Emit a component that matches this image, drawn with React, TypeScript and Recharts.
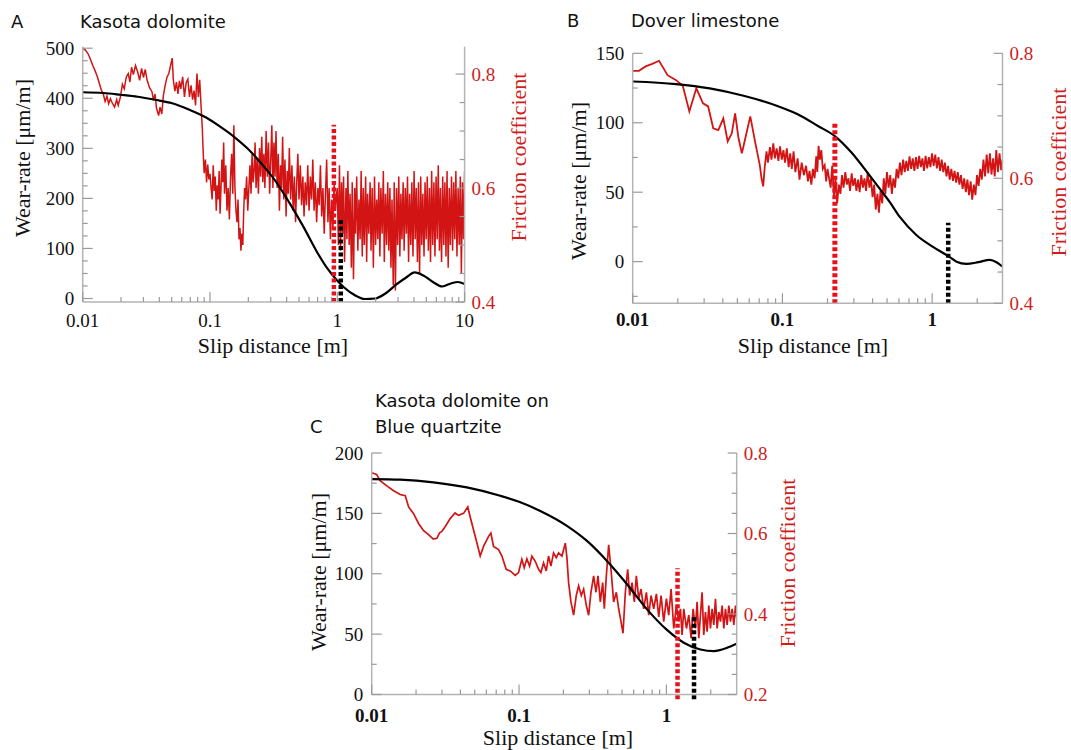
import React from "react";
import { LineChart, Line, XAxis, YAxis, ReferenceLine } from "recharts";

type Pt = [number, number];

const RED = "#d21414";
const RED_DOT = "#e8101a";
const RED_TEXT = "#cf1d1d";
const AXIS = "#b4b4b4";
const TICK = "#9a9a9a";
const SERIF = "'Liberation Serif', 'Times New Roman', serif";
const SANS = "'DejaVu Sans', sans-serif";

// ---------------- Panel A : Kasota dolomite ----------------
const wearA: Pt[] = [
  [0.01, 412], [0.01452, 410.5], [0.01983, 407], [0.02706, 403], [0.03696, 397], [0.05047, 390],
  [0.06888, 377], [0.09397, 361], [0.1205, 343], [0.1546, 323], [0.1983, 299], [0.2543, 269],
  [0.3264, 235], [0.4188, 192], [0.537, 145], [0.6888, 94], [0.8299, 61], [0.9886, 37],
  [1.132, 22], [1.365, 7], [1.644, -1], [1.983, 0], [2.388, 10], [2.877, 27], [3.475, 42],
  [4.055, 52], [4.742, 46], [5.715, 32], [6.668, 24], [7.798, 30], [8.83, 33], [10, 29],
];
const frictionA: Pt[] = [
  [0.0100, 0.845], [0.0105, 0.842], [0.0110, 0.836], [0.0115, 0.826], [0.0120, 0.815], [0.0125, 0.806],
  [0.0130, 0.796], [0.0135, 0.784], [0.0140, 0.772], [0.0145, 0.765], [0.0150, 0.752], [0.0155, 0.761],
  [0.0160, 0.748], [0.0165, 0.757], [0.0170, 0.750], [0.0178, 0.742], [0.0185, 0.755], [0.0190, 0.745],
  [0.0198, 0.760], [0.0205, 0.782], [0.0212, 0.774], [0.0220, 0.795], [0.0228, 0.801], [0.0235, 0.786],
  [0.0242, 0.812], [0.0250, 0.799], [0.0260, 0.815], [0.0270, 0.804], [0.0280, 0.789], [0.0290, 0.810],
  [0.0300, 0.794], [0.0310, 0.808], [0.0320, 0.790], [0.0335, 0.776], [0.0350, 0.769], [0.0360, 0.754],
  [0.0370, 0.765], [0.0380, 0.740], [0.0395, 0.727], [0.0405, 0.742], [0.0418, 0.730], [0.0430, 0.762],
  [0.0445, 0.781], [0.0460, 0.795], [0.0475, 0.801], [0.0490, 0.815], [0.0505, 0.828], [0.0515, 0.790],
  [0.0530, 0.770], [0.0545, 0.786], [0.0560, 0.765], [0.0575, 0.788], [0.0590, 0.774], [0.0610, 0.795],
  [0.0630, 0.760], [0.0650, 0.785], [0.0670, 0.791], [0.0690, 0.760], [0.0710, 0.780], [0.0730, 0.755],
  [0.0750, 0.771], [0.0770, 0.745], [0.0790, 0.801], [0.0810, 0.760], [0.0830, 0.790], [0.0850, 0.745],
  [0.0870, 0.705], [0.0885, 0.660], [0.0900, 0.626], [0.0920, 0.650], [0.0940, 0.610], [0.0960, 0.641],
  [0.0980, 0.615], [0.1000, 0.625],
  [0.102, 0.600], [0.104, 0.580], [0.106, 0.640], [0.108, 0.595], [0.110, 0.620], [0.112, 0.560],
  [0.114, 0.605], [0.116, 0.580], [0.118, 0.630], [0.120, 0.555], [0.122, 0.600], [0.124, 0.650],
  [0.126, 0.610], [0.128, 0.680], [0.130, 0.590], [0.133, 0.640], [0.136, 0.560], [0.139, 0.600],
  [0.142, 0.545], [0.145, 0.620], [0.148, 0.660], [0.151, 0.590], [0.154, 0.710], [0.157, 0.600],
  [0.160, 0.560], [0.163, 0.540], [0.166, 0.580], [0.169, 0.510], [0.172, 0.530], [0.175, 0.490],
  [0.178, 0.520], [0.181, 0.500], [0.184, 0.560], [0.187, 0.600], [0.190, 0.580], [0.194, 0.620],
  [0.198, 0.560], [0.202, 0.600], [0.206, 0.640], [0.210, 0.590], [0.214, 0.660], [0.218, 0.610],
  [0.222, 0.630], [0.226, 0.680], [0.230, 0.600], [0.235, 0.650], [0.240, 0.590], [0.245, 0.670],
  [0.250, 0.620], [0.255, 0.690], [0.260, 0.610], [0.265, 0.660], [0.270, 0.600], [0.276, 0.700],
  [0.282, 0.620], [0.288, 0.680], [0.294, 0.590], [0.300, 0.650], [0.306, 0.710], [0.312, 0.600],
  [0.318, 0.680], [0.324, 0.620], [0.330, 0.700], [0.337, 0.600], [0.344, 0.660], [0.351, 0.560],
  [0.358, 0.640], [0.365, 0.600], [0.372, 0.690], [0.380, 0.580], [0.388, 0.650], [0.396, 0.550],
  [0.404, 0.630], [0.412, 0.590], [0.420, 0.670], [0.430, 0.580], [0.440, 0.640], [0.450, 0.560],
  [0.460, 0.620], [0.470, 0.540], [0.480, 0.610], [0.490, 0.660], [0.500, 0.580], [0.512, 0.640],
  [0.524, 0.570], [0.536, 0.620], [0.548, 0.550], [0.560, 0.610], [0.573, 0.570], [0.586, 0.640],
  [0.600, 0.560], [0.614, 0.620], [0.628, 0.580], [0.642, 0.650], [0.657, 0.560], [0.672, 0.610],
  [0.688, 0.540], [0.704, 0.600], [0.720, 0.570], [0.737, 0.640], [0.754, 0.550], [0.771, 0.600],
  [0.789, 0.520], [0.807, 0.590], [0.825, 0.650], [0.844, 0.540], [0.863, 0.600], [0.883, 0.510],
  [0.903, 0.580], [0.924, 0.530], [0.945, 0.610], [0.966, 0.560], [0.988, 0.590],
  [1.00, 0.60], [1.02, 0.50], [1.04, 0.64], [1.06, 0.49], [1.08, 0.61], [1.10, 0.52], [1.12, 0.62],
  [1.14, 0.47], [1.17, 0.60], [1.19, 0.51], [1.21, 0.63], [1.24, 0.50], [1.26, 0.59], [1.29, 0.46],
  [1.31, 0.61], [1.34, 0.44], [1.37, 0.60], [1.39, 0.52], [1.42, 0.62], [1.45, 0.49], [1.48, 0.58],
  [1.51, 0.51], [1.54, 0.63], [1.57, 0.48], [1.60, 0.60], [1.63, 0.50], [1.67, 0.62], [1.70, 0.47],
  [1.73, 0.59], [1.77, 0.52], [1.81, 0.61], [1.84, 0.49], [1.88, 0.60], [1.92, 0.46], [1.96, 0.62],
  [2.00, 0.50], [2.04, 0.58], [2.08, 0.51], [2.12, 0.61], [2.16, 0.48], [2.20, 0.60], [2.25, 0.52],
  [2.30, 0.63], [2.34, 0.47], [2.39, 0.59], [2.44, 0.50], [2.49, 0.61], [2.54, 0.49], [2.59, 0.60],
  [2.64, 0.46], [2.69, 0.58], [2.75, 0.43], [2.80, 0.61], [2.86, 0.42], [2.92, 0.60], [2.98, 0.50],
  [3.04, 0.62], [3.10, 0.48], [3.16, 0.59], [3.22, 0.51], [3.29, 0.61], [3.35, 0.49], [3.42, 0.60],
  [3.49, 0.52], [3.56, 0.62], [3.63, 0.47], [3.70, 0.59], [3.78, 0.50], [3.85, 0.61], [3.93, 0.48],
  [4.01, 0.63], [4.09, 0.51], [4.17, 0.60], [4.26, 0.47], [4.34, 0.61], [4.43, 0.45], [4.52, 0.62],
  [4.61, 0.50], [4.70, 0.59], [4.80, 0.48], [4.89, 0.61], [4.99, 0.51], [5.09, 0.62], [5.19, 0.49],
  [5.30, 0.60], [5.40, 0.47], [5.51, 0.63], [5.62, 0.50], [5.74, 0.61], [5.85, 0.48], [5.97, 0.62],
  [6.09, 0.51], [6.21, 0.64], [6.34, 0.49], [6.46, 0.60], [6.59, 0.47], [6.73, 0.62], [6.86, 0.50],
  [7.00, 0.61], [7.14, 0.48], [7.28, 0.63], [7.43, 0.46], [7.58, 0.60], [7.73, 0.50], [7.89, 0.62],
  [8.05, 0.49], [8.21, 0.61], [8.37, 0.51], [8.54, 0.63], [8.71, 0.48], [8.89, 0.60], [9.07, 0.50],
  [9.25, 0.62], [9.43, 0.45], [9.62, 0.61], [9.81, 0.51], [10.0, 0.63],
];
const markersA = [
  { x: 0.94, from: -7, to: 347, color: RED_DOT, w: 4.5 },
  { x: 1.065, from: -7, to: 158, color: "#000", w: 4.5 },
];
const xTicksA = [0.01, 0.02, 0.03, 0.04, 0.05, 0.06, 0.07, 0.08, 0.09, 0.1, 0.2, 0.3, 0.4, 0.5, 0.6, 0.7, 0.8, 0.9, 1, 2, 3, 4, 5, 6, 7, 8, 9, 10];
const xLabelsA = [0.01, 0.1, 1, 10];
const leftTicksA = [0, 25, 50, 75, 100, 125, 150, 175, 200, 225, 250, 275, 300, 325, 350, 375, 400, 425, 450, 475, 500];
const leftLabelsA = [0, 100, 200, 300, 400, 500];
const rightTicksA = [0.4, 0.45, 0.5, 0.55, 0.6, 0.65, 0.7, 0.75, 0.8];
const rightLabelsA = [0.4, 0.6, 0.8];

// ---------------- Panel B : Dover limestone ----------------
const wearB: Pt[] = [
  [0.01, 129.7], [0.0195, 127.8], [0.0327, 124.7], [0.055, 119.4], [0.0925, 112.1], [0.1264, 106.1],
  [0.1726, 97.7], [0.2238, 90.4], [0.2902, 78.4], [0.3763, 63], [0.45, 52], [0.52, 43], [0.61, 32],
  [0.787, 19], [1.0, 11], [1.28, 4], [1.455, 0], [1.69, -1.6], [2.03, -0.4], [2.43, 1.3], [2.69, -0.4],
  [2.94, -3.5],
];
const frictionB: Pt[] = [
  [0.0100, 0.772], [0.0110, 0.772], [0.0122, 0.779], [0.0135, 0.783], [0.0150, 0.788], [0.0171, 0.765],
  [0.0195, 0.757], [0.0216, 0.748], [0.0239, 0.707], [0.0266, 0.744], [0.0295, 0.720], [0.0319, 0.715],
  [0.0345, 0.680], [0.0373, 0.677], [0.0403, 0.696], [0.0431, 0.659], [0.0459, 0.672], [0.0483, 0.704],
  [0.0509, 0.664], [0.0536, 0.640], [0.0565, 0.664], [0.0610, 0.699], [0.0660, 0.656], [0.0706, 0.621],
  [0.0725, 0.600], [0.0744, 0.587], [0.0763, 0.620], [0.0783, 0.643], [0.0800, 0.625], [0.0825, 0.650],
  [0.0845, 0.630], [0.0869, 0.656], [0.0890, 0.632], [0.0915, 0.648], [0.0940, 0.628], [0.0964, 0.651],
  [0.0990, 0.630], [0.1016, 0.645], [0.1040, 0.625], [0.1070, 0.648], [0.1100, 0.618], [0.1127, 0.640],
  [0.1155, 0.615], [0.1187, 0.643], [0.1220, 0.610], [0.1264, 0.632], [0.1300, 0.598], [0.1345, 0.625],
  [0.1390, 0.605], [0.1439, 0.620], [0.1480, 0.595], [0.1516, 0.612], [0.1560, 0.590], [0.1597, 0.615],
  [0.1640, 0.600], [0.1682, 0.635], [0.1710, 0.610], [0.1744, 0.652], [0.1780, 0.630], [0.1818, 0.645],
  [0.1860, 0.615], [0.1915, 0.621], [0.1960, 0.595],
  [0.200, 0.615], [0.205, 0.600], [0.210, 0.585], [0.215, 0.620], [0.221, 0.570], [0.226, 0.600],
  [0.232, 0.560], [0.238, 0.590], [0.244, 0.575], [0.250, 0.605], [0.256, 0.585], [0.263, 0.610],
  [0.269, 0.590], [0.276, 0.600], [0.283, 0.580], [0.290, 0.608], [0.297, 0.588], [0.305, 0.600],
  [0.312, 0.580], [0.320, 0.598], [0.328, 0.578], [0.336, 0.605], [0.345, 0.585], [0.353, 0.600],
  [0.362, 0.580], [0.371, 0.610], [0.381, 0.585], [0.390, 0.600], [0.400, 0.570], [0.410, 0.590],
  [0.420, 0.550], [0.431, 0.575], [0.441, 0.545], [0.452, 0.580], [0.464, 0.560], [0.475, 0.600],
  [0.487, 0.575], [0.499, 0.610], [0.512, 0.585], [0.525, 0.605], [0.538, 0.575], [0.551, 0.600],
  [0.565, 0.585], [0.579, 0.615], [0.594, 0.600], [0.609, 0.625], [0.624, 0.605], [0.640, 0.630],
  [0.656, 0.610], [0.672, 0.628], [0.689, 0.612], [0.706, 0.635], [0.724, 0.615], [0.742, 0.632],
  [0.761, 0.612], [0.780, 0.634], [0.799, 0.615], [0.819, 0.636], [0.840, 0.618], [0.861, 0.632],
  [0.882, 0.612], [0.904, 0.636], [0.927, 0.616], [0.950, 0.634], [0.974, 0.618], [0.998, 0.640],
  [1.023, 0.620], [1.049, 0.638], [1.075, 0.616], [1.102, 0.634], [1.130, 0.612], [1.158, 0.630],
  [1.187, 0.610], [1.217, 0.625], [1.247, 0.603], [1.278, 0.620], [1.310, 0.598], [1.343, 0.615],
  [1.377, 0.596], [1.411, 0.612], [1.446, 0.593], [1.483, 0.610], [1.520, 0.590], [1.558, 0.605],
  [1.597, 0.583], [1.637, 0.600], [1.678, 0.578], [1.720, 0.598], [1.763, 0.573], [1.807, 0.595],
  [1.852, 0.566], [1.898, 0.590], [1.946, 0.573], [1.994, 0.605], [2.044, 0.588], [2.095, 0.615],
  [2.148, 0.598], [2.201, 0.630], [2.256, 0.603], [2.313, 0.638], [2.371, 0.608], [2.430, 0.640],
  [2.491, 0.606], [2.553, 0.632], [2.617, 0.603], [2.682, 0.645], [2.749, 0.610], [2.818, 0.640],
  [2.888, 0.613], [2.95, 0.630],
];
const markersB = [
  { x: 0.224, from: -30, to: 101, color: RED_DOT, w: 5 },
  { x: 1.28, from: -30, to: 28, color: "#000", w: 4.5 },
];
const xTicksB = [0.01, 0.02, 0.03, 0.04, 0.05, 0.06, 0.07, 0.08, 0.09, 0.1, 0.2, 0.3, 0.4, 0.5, 0.6, 0.7, 0.8, 0.9, 1, 2];
const xLabelsB = [0.01, 0.1, 1];
const leftTicksB = [-25, 0, 25, 50, 75, 100, 125, 150];
const leftLabelsB = [0, 50, 100, 150];
const rightTicksB = [0.4, 0.45, 0.5, 0.55, 0.6, 0.65, 0.7, 0.75, 0.8];
const rightLabelsB = [0.4, 0.6, 0.8];

// ---------------- Panel C : Kasota dolomite on Blue quartzite ----------------
const wearC: Pt[] = [
  [0.01, 178.4], [0.01558, 177.9], [0.02624, 175.7], [0.04422, 171.5], [0.07447, 164.6], [0.1, 159.6],
  [0.1393, 152], [0.2113, 139.7], [0.2891, 127.2], [0.3953, 110.6], [0.5407, 91.3], [0.739, 70.5],
  [1.0, 53.9], [1.312, 42.9], [1.702, 37.3], [2.097, 36], [2.584, 38.7], [3.0, 42],
];
const frictionC: Pt[] = [
  [0.0100, 0.751], [0.0108, 0.747], [0.0114, 0.731], [0.0126, 0.719], [0.0140, 0.707], [0.0156, 0.697],
  [0.0169, 0.694], [0.0178, 0.666], [0.0192, 0.650], [0.0208, 0.625], [0.0225, 0.607], [0.0243, 0.597],
  [0.0262, 0.586], [0.0277, 0.588], [0.0288, 0.601], [0.0299, 0.605], [0.0315, 0.617], [0.0341, 0.637],
  [0.0368, 0.651], [0.0388, 0.645], [0.0420, 0.650], [0.0449, 0.666], [0.0466, 0.641], [0.0504, 0.593],
  [0.0545, 0.544], [0.0574, 0.568], [0.0621, 0.593], [0.0644, 0.601], [0.0671, 0.568], [0.0726, 0.560],
  [0.0765, 0.544], [0.0818, 0.511], [0.0871, 0.507], [0.0942, 0.496], [0.0992, 0.503], [0.1045, 0.536],
  [0.1084, 0.515], [0.1130, 0.537], [0.1179, 0.519], [0.1222, 0.544], [0.1288, 0.531], [0.1357, 0.511],
  [0.1407, 0.503], [0.1467, 0.527], [0.1530, 0.507], [0.1586, 0.544], [0.1645, 0.519], [0.1715, 0.552],
  [0.1788, 0.540], [0.1855, 0.552], [0.1955, 0.544], [0.2060, 0.576], [0.2113, 0.540], [0.2169, 0.478],
  [0.2250, 0.430], [0.2346, 0.397], [0.2446, 0.446], [0.2537, 0.470], [0.2645, 0.446], [0.2744, 0.462],
  [0.2861, 0.421], [0.2967, 0.397], [0.3077, 0.454], [0.3208, 0.495], [0.3328, 0.454], [0.3434, 0.495],
  [0.3561, 0.430], [0.3694, 0.478], [0.3791, 0.413], [0.3912, 0.495], [0.4057, 0.572], [0.4207, 0.511],
  [0.4386, 0.430], [0.4573, 0.454], [0.4745, 0.413], [0.4920, 0.381], [0.5076, 0.352], [0.5265, 0.454],
  [0.5461, 0.511], [0.5634, 0.446], [0.5845, 0.478], [0.6062, 0.430], [0.6253, 0.495], [0.6486, 0.438],
  [0.6728, 0.462], [0.7015, 0.413], [0.7314, 0.454], [0.7586, 0.397], [0.7869, 0.446], [0.8204, 0.413],
  [0.8554, 0.450], [0.8872, 0.393], [0.9202, 0.446], [0.9592, 0.381], [1.000, 0.438], [1.037, 0.397],
  [1.076, 0.462], [1.122, 0.364], [1.169, 0.421], [1.213, 0.381], [1.245, 0.413], [1.278, 0.348],
  [1.312, 0.413], [1.368, 0.364], [1.418, 0.397], [1.471, 0.340], [1.518, 0.413], [1.574, 0.364],
  [1.616, 0.430], [1.659, 0.340], [1.702, 0.397], [1.747, 0.454], [1.793, 0.348], [1.841, 0.405],
  [1.889, 0.356], [1.940, 0.421], [1.991, 0.364], [2.043, 0.413], [2.097, 0.373], [2.153, 0.438],
  [2.210, 0.364], [2.268, 0.405], [2.328, 0.381], [2.389, 0.421], [2.453, 0.364], [2.517, 0.413],
  [2.584, 0.373], [2.652, 0.421], [2.722, 0.381], [2.794, 0.413], [2.868, 0.373], [2.944, 0.421],
  [3.000, 0.389],
];
const markersC = [
  { x: 1.19, from: -4, to: 104.6, color: RED_DOT, w: 4.5 },
  { x: 1.54, from: -4, to: 65, color: "#000", w: 4.5 },
];
const xTicksC = [0.01, 0.02, 0.03, 0.04, 0.05, 0.06, 0.07, 0.08, 0.09, 0.1, 0.2, 0.3, 0.4, 0.5, 0.6, 0.7, 0.8, 0.9, 1, 2];
const xLabelsC = [0.01, 0.1, 1];
const leftTicksC = [0, 25, 50, 75, 100, 125, 150, 175, 200];
const leftLabelsC = [0, 50, 100, 150, 200];
const rightTicksC = [0.2, 0.25, 0.3, 0.35, 0.4, 0.45, 0.5, 0.55, 0.6, 0.65, 0.7, 0.75, 0.8];
const rightLabelsC = [0.2, 0.4, 0.6, 0.8];

const has = (arr: number[], v: number) => arr.some((m) => Math.abs(m - v) < 1e-9);

const makeXTick = (labels: number[], bold: boolean, off: number) => (p: any) => {
  const v = p.payload.value;
  const major = has(labels, v);
  return (
    <g>
      <line x1={p.x} x2={p.x} y1={p.y} y2={p.y - (major ? 10 : 5)} stroke={TICK} strokeWidth={1.2} />
      {major && (
        <text x={p.x} y={p.y + off} dy="0.35em" textAnchor="middle" fontFamily={SERIF} fontSize={19}
          fontWeight={bold ? 700 : 400} fill="#111">
          {String(v)}
        </text>
      )}
    </g>
  );
};

const makeLeftTick = (labels: number[]) => (p: any) => {
  const v = p.payload.value;
  const major = has(labels, v);
  return (
    <g>
      <line x1={p.x} x2={p.x + (major ? 10 : 5)} y1={p.y} y2={p.y} stroke={TICK} strokeWidth={1.2} />
      {major && (
        <text x={p.x - 8.5} y={p.y} dy="0.35em" textAnchor="end" fontFamily={SERIF} fontSize={19} fill="#111">
          {String(v)}
        </text>
      )}
    </g>
  );
};

const makeRightTick = (labels: number[]) => (p: any) => {
  const v = p.payload.value;
  const major = has(labels, v);
  return (
    <g>
      <line x1={p.x} x2={p.x - (major ? 9 : 5)} y1={p.y} y2={p.y} stroke={TICK} strokeWidth={1.2} />
      {major && (
        <text x={p.x + 7} y={p.y} dy="0.35em" textAnchor="start" fontFamily={SERIF} fontSize={19} fill={RED_TEXT}>
          {v.toFixed(1)}
        </text>
      )}
    </g>
  );
};

type Cfg = {
  box: [number, number, number, number];
  margin: { top: number; right: number; bottom: number; left: number };
  leftW: number;
  rightW: number;
  xH: number;
  xLabelOff: number;
  xDomain: [number, number];
  leftDomain: [number, number];
  rightDomain: [number, number];
  xTicks: number[];
  xLabels: number[];
  leftTicks: number[];
  leftLabels: number[];
  rightTicks: number[];
  rightLabels: number[];
  wear: Pt[];
  friction: Pt[];
  markers: { x: number; from: number; to: number; color: string; w: number }[];
  topLine: boolean;
  xBold: boolean;
  redW: number;
};

const panels: Cfg[] = [
  {
    box: [0, 0, 540, 370],
    margin: { top: 46.7, right: 30.4, bottom: 33, left: 0 },
    leftW: 82.7, rightW: 45, xH: 35, xLabelOff: 18,
    xDomain: [0.01, 10], leftDomain: [-7, 503], rightDomain: [0.4, 0.848],
    xTicks: xTicksA, xLabels: xLabelsA, leftTicks: leftTicksA, leftLabels: leftLabelsA,
    rightTicks: rightTicksA, rightLabels: rightLabelsA,
    wear: wearA, friction: frictionA, markers: markersA, topLine: false, xBold: false, redW: 1.5,
  },
  {
    box: [545, 0, 526, 370],
    margin: { top: 53.3, right: 23.5, bottom: 31.7, left: 0 },
    leftW: 87.7, rightW: 45, xH: 35, xLabelOff: 16.5,
    xDomain: [0.01, 2.95], leftDomain: [-30, 150], rightDomain: [0.4, 0.8],
    xTicks: xTicksB, xLabels: xLabelsB, leftTicks: leftTicksB, leftLabels: leftLabelsB,
    rightTicks: rightTicksB, rightLabels: rightLabelsB,
    wear: wearB, friction: frictionB, markers: markersB, topLine: true, xBold: true, redW: 1.8,
  },
  {
    box: [285, 378, 520, 372],
    margin: { top: 75, right: 23.3, bottom: 20.5, left: 0 },
    leftW: 86.7, rightW: 45, xH: 35, xLabelOff: 20.5,
    xDomain: [0.01, 3], leftDomain: [0, 200], rightDomain: [0.2, 0.8],
    xTicks: xTicksC, xLabels: xLabelsC, leftTicks: leftTicksC, leftLabels: leftLabelsC,
    rightTicks: rightTicksC, rightLabels: rightLabelsC,
    wear: wearC, friction: frictionC, markers: markersC, topLine: true, xBold: true, redW: 1.7,
  },
];

function Panel({ cfg }: { cfg: Cfg }) {
  const wear = cfg.wear.map(([x, y]) => ({ x, y }));
  const fr = cfg.friction.map(([x, y]) => ({ x, y }));
  const axisLine = { stroke: AXIS, strokeWidth: 1.5 };
  return (
    <div style={{ position: "absolute", left: cfg.box[0], top: cfg.box[1] }}>
      <LineChart width={cfg.box[2]} height={cfg.box[3]} margin={cfg.margin}>
        <XAxis xAxisId="x" dataKey="x" type="number" scale="log" domain={cfg.xDomain} allowDataOverflow
          ticks={cfg.xTicks} interval={0} tickSize={0} tickMargin={0} tickLine={false} height={cfg.xH}
          axisLine={axisLine} tick={makeXTick(cfg.xLabels, cfg.xBold, cfg.xLabelOff)} />
        {cfg.topLine && (
          <XAxis xAxisId="top" dataKey="x" orientation="top" type="number" scale="log" domain={cfg.xDomain}
            allowDataOverflow height={0} tick={false} tickLine={false} axisLine={axisLine} />
        )}
        <YAxis yAxisId="left" type="number" domain={cfg.leftDomain} allowDataOverflow ticks={cfg.leftTicks}
          interval={0} tickSize={0} tickMargin={0} tickLine={false} width={cfg.leftW} axisLine={axisLine}
          tick={makeLeftTick(cfg.leftLabels)} />
        <YAxis yAxisId="right" orientation="right" type="number" domain={cfg.rightDomain} allowDataOverflow
          ticks={cfg.rightTicks} interval={0} tickSize={0} tickMargin={0} tickLine={false} width={cfg.rightW}
          axisLine={axisLine} tick={makeRightTick(cfg.rightLabels)} />
        <Line xAxisId="x" yAxisId="right" data={fr} dataKey="y" type="linear" stroke={RED}
          strokeWidth={cfg.redW} dot={false} activeDot={false} isAnimationActive={false} />
        <Line xAxisId="x" yAxisId="left" data={wear} dataKey="y" type="monotone" stroke="#000"
          strokeWidth={2.2} dot={false} activeDot={false} isAnimationActive={false} />
        {cfg.markers.map((m, i) => (
          <ReferenceLine key={i} xAxisId="x" yAxisId="left" ifOverflow="visible"
            segment={[{ x: m.x, y: m.from }, { x: m.x, y: m.to }]}
            stroke={m.color} strokeWidth={m.w} strokeDasharray="4 2.5" />
        ))}
      </LineChart>
    </div>
  );
}

const titles = [
  { t: "A", x: 11, y: 28 },
  { t: "Kasota dolomite", x: 80, y: 28 },
  { t: "B", x: 567, y: 27 },
  { t: "Dover limestone", x: 631, y: 27 },
  { t: "Kasota dolomite on", x: 375, y: 407 },
  { t: "Blue quartzite", x: 375, y: 433 },
  { t: "C", x: 310, y: 433 },
];

const axisTitles = [
  { t: "Wear-rate [μm/m]", x: 22.5, y: 158, rot: true, red: false },
  { t: "Friction coefficient", x: 518, y: 157, rot: true, red: true },
  { t: "Slip distance [m]", x: 273, y: 345, rot: false, red: false },
  { t: "Wear-rate [μm/m]", x: 578, y: 181, rot: true, red: false },
  { t: "Friction coefficient", x: 1058, y: 172, rot: true, red: true },
  { t: "Slip distance [m]", x: 813, y: 345, rot: false, red: false },
  { t: "Wear-rate [μm/m]", x: 318, y: 572, rot: true, red: false },
  { t: "Friction coefficient", x: 787, y: 563, rot: true, red: true },
  { t: "Slip distance [m]", x: 558, y: 737.3, rot: false, red: false },
];

export default function App() {
  return (
    <div style={{ position: "absolute", left: 0, top: 0, width: 1071, height: 750, background: "#fff", overflow: "hidden" }}>
      {panels.map((c, i) => (
        <Panel key={i} cfg={c} />
      ))}
      <svg width={1071} height={750} style={{ position: "absolute", left: 0, top: 0, pointerEvents: "none" }}>
        {titles.map((d, i) => (
          <text key={i} x={d.x} y={d.y} fontFamily={SANS} fontSize={18} fill="#111">{d.t}</text>
        ))}
        {axisTitles.map((d, i) => (
          <text key={"a" + i} x={d.x} y={d.y} dy="0.35em" textAnchor="middle" fontFamily={SERIF} fontSize={22}
            fill={d.red ? RED_TEXT : "#111"} transform={d.rot ? `rotate(-90 ${d.x} ${d.y})` : undefined}>
            {d.t}
          </text>
        ))}
      </svg>
    </div>
  );
}
